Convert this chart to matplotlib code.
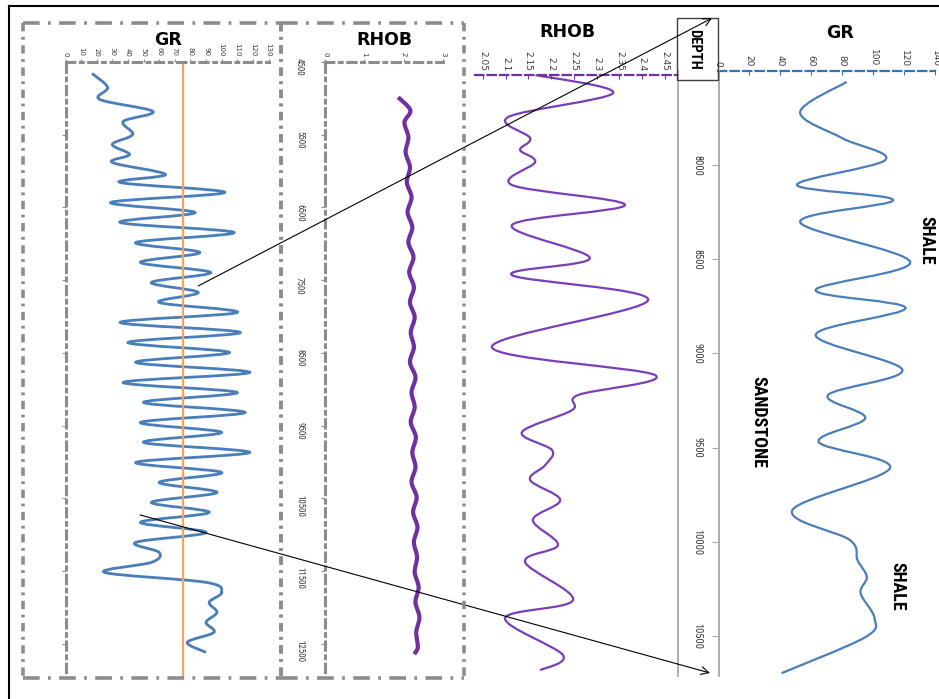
import numpy as np
import matplotlib
matplotlib.use("Agg")
import matplotlib.pyplot as plt
from matplotlib.path import Path
from matplotlib.patches import PathPatch, Rectangle, ConnectionPatch
from matplotlib.lines import Line2D
from matplotlib import font_manager

plt.rcParams["lines.scale_dashes"] = False

# ---------------- data ----------------
# detailed interval: gamma ray (API) and bulk density (g/cc) against depth (ft)
gr_depth = [7559, 7719, 7857, 7973, 8106, 8186, 8303, 8515, 8664, 8759, 8902, 9088,
            9221, 9343, 9470, 9608, 9831, 9990, 10097, 10187, 10272, 10405, 10506, 10697]
gr_api = [83, 53, 80, 108, 51, 113, 53, 124, 63, 121, 63, 119,
          71, 95, 65, 111, 48, 85, 90, 96, 92, 101, 95, 41]

rhob_depth = [7522, 7618, 7745, 7857, 7920, 7984, 8106, 8212, 8319, 8494, 8584, 8717,
              8966, 9115, 9221, 9301, 9418, 9513, 9593, 9672, 9778, 9884, 10017, 10107,
              10309, 10405, 10601, 10681]
rhob_gcc = [2.165, 2.336, 2.106, 2.154, 2.132, 2.165, 2.114, 2.362, 2.114, 2.285, 2.114, 2.413,
            2.070, 2.428, 2.259, 2.246, 2.136, 2.202, 2.187, 2.154, 2.220, 2.160, 2.215, 2.143,
            2.248, 2.099, 2.226, 2.176]

# full well section
grw_depth = [4658, 4850, 5015, 5180, 5318, 5497, 5634, 5772, 5882, 6047, 6157, 6294, 6432,
             6570, 6707, 6845, 6982, 7120, 7257, 7395, 7532, 7670, 7807, 7945, 8082,
             8220, 8357, 8495, 8632, 8770, 8907, 9045, 9182, 9320, 9457, 9595, 9732,
             9870, 10007, 10145, 10282, 10420, 10557, 10695, 10832, 10970, 11107,
             11245, 11382, 11520, 11657, 11795, 11932, 12070, 12207, 12345, 12482, 12620]
grw_api = [17, 27, 22, 56, 37, 43, 30, 41, 30, 64, 35, 102, 29, 83, 35, 108, 45, 86, 48,
           93, 55, 85, 60, 110, 35, 112, 40, 105, 45, 118, 37, 110, 50, 115, 48, 100,
           50, 118, 45, 100, 60, 97, 55, 92, 48, 90, 45, 60, 55, 25, 90, 100, 92,
           97, 90, 95, 78, 90]

rhw_depth = [4985, 5164, 5329, 5535, 5742, 5948, 6154, 6360, 6567, 6773, 6979, 7185,
             7392, 7598, 7804, 8010, 8217, 8423, 8629, 8835, 9042, 9248, 9454, 9660,
             9867, 10073, 10279, 10485, 10692, 10898, 11104, 11310, 11517, 11723,
             11929, 12135, 12342, 12548, 12645]
rhw_gcc = [1.86, 2.17, 2.02, 2.12, 2.05, 2.16, 2.08, 2.20, 2.10, 2.22, 2.12, 2.25,
           2.14, 2.26, 2.16, 2.28, 2.18, 2.26, 2.16, 2.30, 2.20, 2.28, 2.18, 2.31,
           2.22, 2.30, 2.20, 2.33, 2.24, 2.35, 2.26, 2.34, 2.28, 2.38, 2.30, 2.40,
           2.32, 2.36, 2.27]

gr_cutoff = 75

gr_ticks = [0, 20, 40, 60, 80, 100, 120, 140]
rhob_ticks = [2.05, 2.1, 2.15, 2.2, 2.25, 2.3, 2.35, 2.4, 2.45]
depth_ticks = [8000, 8500, 9000, 9500, 10000, 10500]
grw_ticks = list(range(0, 131, 10))
rhw_ticks = [0, 1, 2, 3]
depthw_ticks = [4500, 5500, 6500, 7500, 8500, 9500, 10500, 11500, 12500]

# ---------------- figure ----------------
W, H = 939, 699
fig = plt.figure(figsize=(W / 100, H / 100), dpi=100)

def rect(x0, y0, x1, y1):
    return [x0 / W, 1 - y1 / H, (x1 - x0) / W, (y1 - y0) / H]

names = {f.name for f in font_manager.fontManager.ttflist}
NARROW = next((n for n in ("Liberation Sans Narrow", "DejaVu Sans Condensed", "Roboto Condensed")
               if n in names), "DejaVu Sans")

BLUE = "#4a7ebb"
PURPLE = "#7a3fb8"
GREY = "#8c8c8c"
ORANGE = "#f6a35b"
LABEL = "#3a3a3a"


def smooth_path(x, y):
    """Smoothed polyline (Catmull-Rom as cubic Beziers) through the points."""
    P = np.column_stack([x, y]).astype(float)
    n = len(P)
    verts, codes = [P[0]], [Path.MOVETO]
    for i in range(n - 1):
        p0 = P[i - 1] if i > 0 else P[i]
        p1, p2 = P[i], P[i + 1]
        p3 = P[i + 2] if i + 2 < n else P[i + 1]
        verts += [p1 + (p2 - p0) / 6, p2 - (p3 - p1) / 6, p2]
        codes += [Path.CURVE4] * 3
    return Path(verts, codes)


def bare(ax):
    for s in ax.spines.values():
        s.set_visible(False)
    ax.set_facecolor("none")
    ax.tick_params(left=False, bottom=False, labelleft=False, labelbottom=False)


D_TOP, D_BOT = 7500, 10712
DW_TOP, DW_BOT = 4500, 12890

# ---- detailed GR track ----
ax_gr = fig.add_axes(rect(718, 70.8, 935, 676))
bare(ax_gr)
ax_gr.set_xlim(0, 140)
ax_gr.set_ylim(D_BOT, D_TOP)
ax_gr.add_patch(PathPatch(smooth_path(gr_api, gr_depth), fill=False, edgecolor=BLUE, lw=1.6))
ax_gr.spines["top"].set_visible(True)
ax_gr.spines["top"].set_color("#2e75b6")
ax_gr.spines["top"].set_linewidth(1.6)
ax_gr.spines["top"].set_linestyle((0, (6, 3)))
ax_gr.set_xticks(gr_ticks)
ax_gr.tick_params(top=True, labeltop=True, direction="in", length=3, color="#2e75b6",
                  labelsize=6.5, labelcolor=LABEL, pad=3, labelrotation=-90)
ax_gr.set_yticks([])

# ---- detailed RHOB track ----
ax_rh = fig.add_axes(rect(475, 75, 678, 676))
bare(ax_rh)
ax_rh.set_xlim(2.033, 2.4785)
ax_rh.set_ylim(D_BOT, D_TOP + (75 - 70.8) / 0.1884)
ax_rh.add_patch(PathPatch(smooth_path(rhob_gcc, rhob_depth), fill=False, edgecolor=PURPLE, lw=1.6))
ax_rh.spines["top"].set_visible(True)
ax_rh.spines["top"].set_color("#7030a0")
ax_rh.spines["top"].set_linewidth(1.6)
ax_rh.spines["top"].set_linestyle((0, (6, 3)))
ax_rh.set_xticks(rhob_ticks)
ax_rh.set_xticklabels([f"{v:g}" for v in rhob_ticks])
ax_rh.tick_params(top=True, labeltop=True, direction="in", length=3, color="#7030a0",
                  labelsize=6.5, labelcolor=LABEL, pad=3, labelrotation=-90)
ax_rh.set_yticks([])

# ---- depth track ----
ax_d = fig.add_axes(rect(678, 70.8, 719, 676))
ax_d.set_facecolor("none")
ax_d.set_ylim(D_BOT, D_TOP)
ax_d.set_xlim(0, 1)
for side in ("top", "bottom"):
    ax_d.spines[side].set_visible(False)
for side in ("left", "right"):
    ax_d.spines[side].set_color("#a6a6a6")
    ax_d.spines[side].set_linewidth(1.3)
ax_d.set_xticks([])
ax_d.yaxis.tick_right()
ax_d.set_yticks(depth_ticks)
ax_d.tick_params(axis="y", direction="in", length=5, color="#a6a6a6", labelright=False)
for d in depth_ticks:
    ax_d.text(0.47, d, str(d), rotation=-90, ha="center", va="center", fontsize=7.5,
              color=LABEL, family=NARROW, transform=ax_d.get_yaxis_transform())

# DEPTH header box
fig.add_artist(Rectangle((677 / W, 1 - 80 / H), 41 / W, 62 / H, transform=fig.transFigure,
                         fill=False, edgecolor="#404040", lw=1.0))
fig.text(694 / W, 1 - 49 / H, "DEPTH", rotation=-90, ha="center", va="center",
         fontsize=10.5, fontweight="bold", family=NARROW)

# lithology annotations
lith_kw = dict(rotation=-90, ha="center", va="center", fontsize=13, fontweight="bold",
               family=NARROW, transform=fig.transFigure)
fig.text(926 / W, 1 - 240 / H, "SHALE", **lith_kw)
fig.text(758 / W, 1 - 422 / H, "SANDSTONE", **lith_kw)
fig.text(897 / W, 1 - 586 / H, "SHALE", **lith_kw)

# ---- full-well GR track ----
ax_gw = fig.add_axes(rect(65.5, 62, 268.5, 672))
bare(ax_gw)
ax_gw.set_xlim(0, 130)
ax_gw.set_ylim(DW_BOT, DW_TOP)
ax_gw.add_patch(PathPatch(smooth_path(grw_api, grw_depth), fill=False, edgecolor=BLUE, lw=2.0))
ax_gw.axvline(gr_cutoff, ymin=-0.01, ymax=1, color=ORANGE, lw=1.6, clip_on=False)
for side in ("top", "left"):
    ax_gw.spines[side].set_visible(True)
    ax_gw.spines[side].set_color(GREY)
    ax_gw.spines[side].set_linewidth(2.2)
    ax_gw.spines[side].set_linestyle((0, (6, 4, 2, 4)))
ax_gw.set_xticks(grw_ticks)
ax_gw.tick_params(axis="x", top=True, labeltop=True, direction="out", length=2, color=GREY,
                  labelsize=5, labelcolor=LABEL, pad=2, labelrotation=-90)
ax_gw.set_yticks(depthw_ticks[1:])
ax_gw.tick_params(axis="y", left=True, direction="out", length=3, color=GREY, labelleft=False)

# ---- full-well RHOB track ----
ax_rw = fig.add_axes(rect(325, 62, 443, 672))
bare(ax_rw)
ax_rw.set_xlim(0, 3)
ax_rw.set_ylim(DW_BOT, DW_TOP)
ax_rw.add_patch(PathPatch(smooth_path(rhw_gcc, rhw_depth), fill=False, edgecolor="#7030a0", lw=3.0))
for side in ("top", "left"):
    ax_rw.spines[side].set_visible(True)
    ax_rw.spines[side].set_color(GREY)
    ax_rw.spines[side].set_linewidth(2.2)
    ax_rw.spines[side].set_linestyle((0, (6, 4, 2, 4)))
ax_rw.set_xticks(rhw_ticks)
ax_rw.tick_params(axis="x", top=True, labeltop=True, direction="out", length=2, color=GREY,
                  labelsize=5, labelcolor=LABEL, pad=2, labelrotation=-90)
ax_rw.set_yticks(depthw_ticks)
ax_rw.tick_params(axis="y", left=True, labelleft=True, direction="out", length=3, color=GREY,
                  labelsize=6.5, labelcolor=LABEL, pad=12, labelrotation=-90)
for lbl in ax_rw.get_yticklabels():
    lbl.set_family(NARROW)

# track titles
title_kw = dict(ha="center", va="center", fontsize=12.5, fontweight="bold",
                transform=fig.transFigure)
fig.text(168 / W, 1 - 40 / H, "GR", **title_kw)
fig.text(384 / W, 1 - 40 / H, "RHOB", **title_kw)
fig.text(567 / W, 1 - 32 / H, "RHOB", **title_kw)
fig.text(840 / W, 1 - 33 / H, "GR", **title_kw)

# dash-dot frames around the full-well tracks
def frame(x0, y0, x1, y1):
    kw = dict(transform=fig.transFigure, color=GREY, lw=2.6)
    fig.add_artist(Line2D([x0 / W, x1 / W], [1 - y0 / H] * 2, ls=(0, (12, 6, 2, 6)), **kw))
    fig.add_artist(Line2D([x0 / W, x1 / W], [1 - y1 / H] * 2, ls=(0, (12, 6, 2, 6)), **kw))
    fig.add_artist(Line2D([x0 / W] * 2, [1 - y0 / H, 1 - y1 / H], ls=(0, (6, 4, 2, 4)), **kw))
    fig.add_artist(Line2D([x1 / W] * 2, [1 - y0 / H, 1 - y1 / H], ls=(0, (6, 4, 2, 4)), **kw))

frame(23, 23, 281, 678)
frame(281, 23, 464, 678)

# outer border (top and left)
fig.add_artist(Line2D([9 / W, 1], [1 - 6 / H] * 2, transform=fig.transFigure, color="black", lw=1.5))
fig.add_artist(Line2D([9 / W] * 2, [0, 1 - 6 / H], transform=fig.transFigure, color="black", lw=1.5))

# zoom arrows from the full-well GR track to the detailed interval
arrow_kw = dict(arrowstyle="->", mutation_scale=14, color="black", lw=0.8)
fig.add_artist(ConnectionPatch(xyA=(85, 7580), coordsA=ax_gw.transData,
                               xyB=(0.83, 1.087), coordsB=ax_d.transAxes, **arrow_kw))
fig.add_artist(ConnectionPatch(xyA=(47.7, 10729), coordsA=ax_gw.transData,
                               xyB=(0.78, 10696), coordsB=ax_d.transData, **arrow_kw))

fig.savefig("out.png", dpi=100)
